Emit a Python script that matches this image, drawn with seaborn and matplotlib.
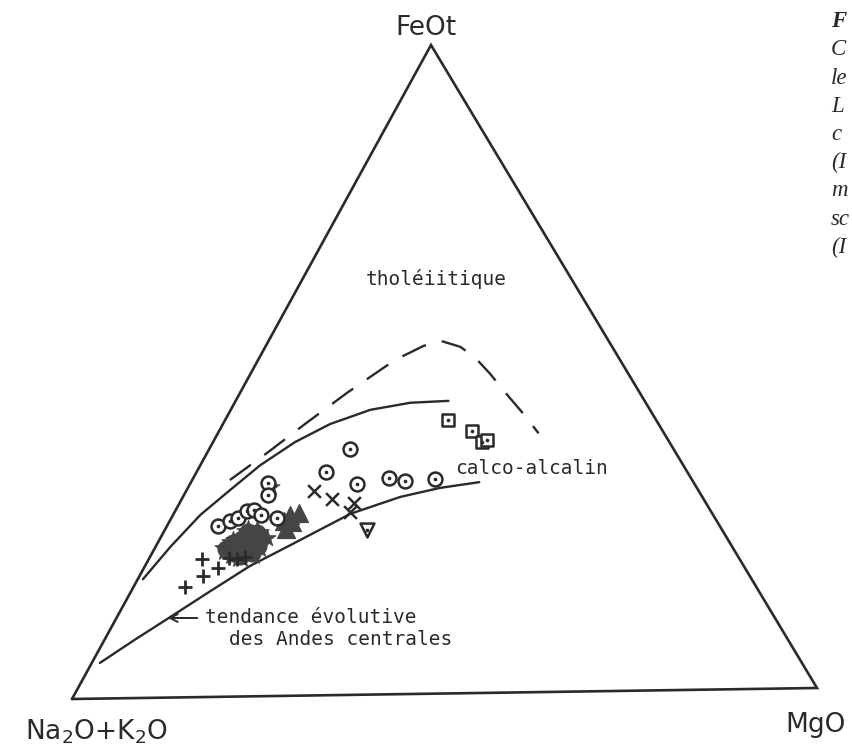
import numpy as np
import pandas as pd
import matplotlib.pyplot as plt
import seaborn as sns

# AFM diagram, values in % : M = MgO, F = FeOt (alkalis = 100 - M - F)
square_m = [30.2, 34.2, 36.4, 36.9]
square_f = [42.2, 40.4, 38.7, 39.0]

circle_m = [19.1, 17.5, 22.6, 26.4, 28.9, 32.8,
            6.9, 8.2, 9.0, 9.7, 10.6, 11.9, 14.3, 10.5, 11.4]
circle_f = [37.9, 34.4, 32.5, 33.4, 32.9, 33.1,
            26.3, 27.1, 27.5, 28.6, 28.7, 27.9, 27.4, 32.9, 31.0]

cross_m = [17.3, 20.3, 23.6, 23.7]
cross_f = [31.5, 30.2, 29.6, 28.2]

invtri_m = [27.4]
invtri_f = [25.4]

plus_m = [7.2, 8.6, 10.0, 7.0, 10.8, 11.9, 12.9]
plus_f = [21.3, 18.7, 19.9, 17.0, 21.4, 21.2, 21.5]

blob_m = [9.7, 10.2, 11.1, 12.4, 13.8, 10.9, 12.3, 12.1, 13.5, 11.4, 12.7]
blob_f = [22.8, 23.7, 24.3, 24.1, 23.2, 22.1, 22.7, 21.7, 22.1, 25.3, 25.2]

star_m = [14.4, 11.2]
star_f = [24.4, 32.2]

filltri_m = [15.8, 16.9, 15.5, 16.6, 16.3]
filltri_f = [27.9, 28.2, 27.0, 26.8, 25.7]

# boundary curves
lower_m = [1.1, 4.1, 7.2, 10.7, 14.2, 18.1, 23.9, 29.4, 34.1, 39.0]
lower_f = [5.5, 9.0, 12.4, 16.3, 20.1, 23.2, 27.9, 30.4, 31.7, 32.5]

upper_m = [0.7, 2.0, 3.7, 5.9, 8.1, 11.1, 14.5, 18.9, 23.8, 28.8]
upper_f = [18.3, 23.2, 28.1, 31.9, 35.6, 39.1, 41.8, 43.9, 44.9, 45.1]

dashed_m = [5.1, 8.2, 11.2, 14.5, 18.5, 21.3, 23.2, 26.4, 29.2, 32.4, 36.3, 39.7, 43.4]
dashed_f = [33.4, 37.6, 42.0, 46.6, 51.5, 53.6, 54.4, 53.4, 51.7, 49.2, 45.9, 43.1, 39.9]

# corners of the (slightly skewed) scanned triangle, in figure pixels
corner_a = np.array([72, 699])
corner_m = np.array([817, 688])
corner_f = np.array([431, 45])


def project(m, f):
    m = np.asarray(m) / 100
    f = np.asarray(f) / 100
    xy = corner_a + np.outer(m, corner_m - corner_a) + np.outer(f, corner_f - corner_a)
    return pd.DataFrame({"x": xy[:, 0], "y": xy[:, 1]})


ink = "#2a2a2a"
grey = "#454545"

sns.set_theme(style="white")
fig = plt.figure(figsize=(8.52, 7.55), dpi=100)
ax = fig.add_axes([0, 0, 1, 1])

# triangle frame
frame = project([0, 100, 0, 0], [0, 0, 100, 0])
ax.plot(frame.x, frame.y, color=ink, lw=1.9, solid_joinstyle="miter")

# curves
sns.lineplot(data=project(lower_m, lower_f), x="x", y="y", sort=False,
             estimator=None, color=ink, lw=1.7, ax=ax)
sns.lineplot(data=project(upper_m, upper_f), x="x", y="y", sort=False,
             estimator=None, color=ink, lw=1.7, ax=ax)
sns.lineplot(data=project(dashed_m, dashed_f), x="x", y="y", sort=False,
             estimator=None, color=ink, lw=1.7, ax=ax, linestyle=(0, (11, 7)))

# filled groups first: dark mass of overlapping symbols
blob = project(blob_m, blob_f)
sns.scatterplot(data=blob, x="x", y="y", marker="o", s=170,
                color=grey, edgecolor=grey, linewidth=0, ax=ax, zorder=3)
sns.scatterplot(data=blob, x="x", y="y", marker="*", s=300,
                color=grey, edgecolor=grey, linewidth=0.8, ax=ax, zorder=3)
sns.scatterplot(data=project(filltri_m, filltri_f), x="x", y="y", marker="^", s=170,
                color=grey, edgecolor=grey, linewidth=0.8, ax=ax, zorder=3)
sns.scatterplot(data=project(star_m, star_f), x="x", y="y", marker="*", s=170,
                color=grey, edgecolor=grey, linewidth=0.6, ax=ax, zorder=3)

# open symbols with a centre dot
for m, f, mk, size in [(circle_m, circle_f, "o", 100),
                       (square_m, square_f, "s", 85),
                       (invtri_m, invtri_f, "v", 100)]:
    pts = project(m, f)
    sns.scatterplot(data=pts, x="x", y="y", marker=mk, s=size, color=ink,
                    facecolor="white", edgecolor=ink, linewidth=1.8, ax=ax, zorder=4)
    sns.scatterplot(data=pts, x="x", y="y", marker="o", s=7, color=ink,
                    edgecolor=ink, linewidth=0, ax=ax, zorder=5)

sns.scatterplot(data=project(cross_m, cross_f), x="x", y="y", marker="x", s=85,
                color=ink, linewidth=1.8, ax=ax, zorder=4)
sns.scatterplot(data=project(plus_m, plus_f), x="x", y="y", marker="+", s=110,
                color=ink, linewidth=2.0, ax=ax, zorder=4)

# corner labels
ax.text(426, 35, "FeOt", ha="center", va="baseline", fontsize=19, color=ink)
ax.text(816, 732, "MgO", ha="center", va="baseline", fontsize=19, color=ink)
ax.text(25, 740, r"Na$_2$O+K$_2$O", ha="left", va="baseline", fontsize=19, color=ink)

# field labels, typewriter style
mono = dict(family="DejaVu Sans Mono", fontsize=14, color=ink, va="baseline")
ax.text(366, 285, "tholéiitique", **mono)
ax.text(455, 474, "calco-alcalin", **mono)
ax.text(205, 623, "tendance évolutive", **mono)
ax.text(229, 645, "des Andes centrales", **mono)
ax.annotate("", xy=(165, 618), xytext=(200, 618),
            arrowprops=dict(arrowstyle="->", color=ink, lw=1.4, mutation_scale=14))

# caption of the next column, cut by the page edge
caption = ["F", "C", "le", "L", "c", "(I", "m", "sc", "(I"]
for i, word in enumerate(caption):
    ax.text(831, 27 + i * 28.25, word, family="Liberation Serif", style="italic",
            weight="bold" if i == 0 else "normal", fontsize=16.5, color=ink,
            va="baseline", ha="left")

ax.set_xlim(0, 852)
ax.set_ylim(755, 0)
ax.set_axis_off()
fig.savefig("out.png", dpi=100)
